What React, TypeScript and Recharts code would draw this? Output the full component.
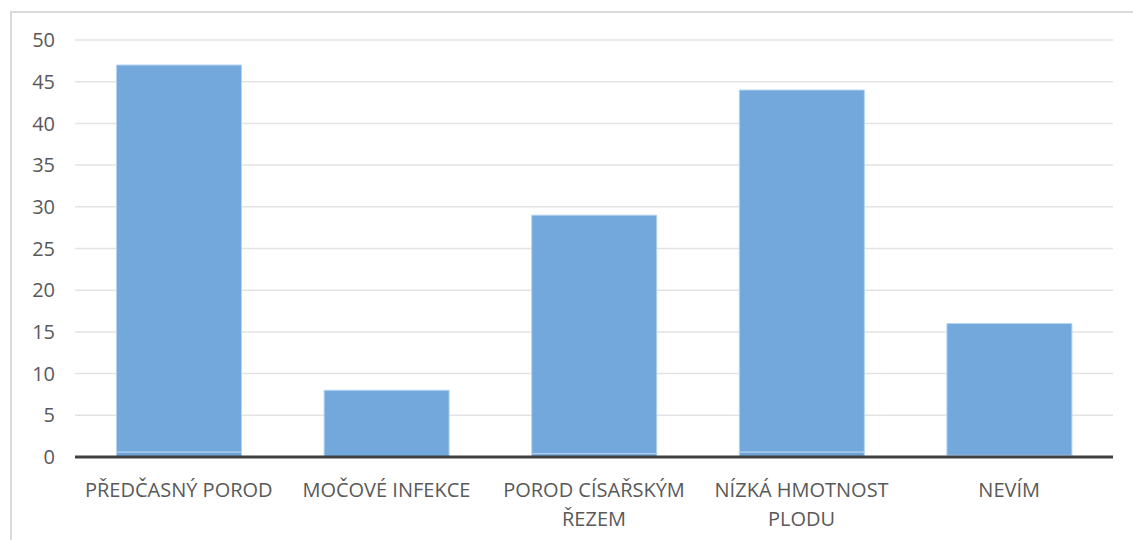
import React from 'react';
import { BarChart, Bar, XAxis, YAxis, CartesianGrid } from 'recharts';

const categories = [
  'PŘEDČASNÝ POROD',
  'MOČOVÉ INFEKCE',
  'POROD CÍSAŘSKÝM ŘEZEM',
  'NÍZKÁ HMOTNOST PLODU',
  'NEVÍM',
];
// thin base segment visible at the bottom of the bars
const baseValues = [0.6, 0, 0.4, 0.6, 0.2];
const topValues = [46.4, 8, 28.6, 43.4, 15.8];
const yTicks = [0, 5, 10, 15, 20, 25, 30, 35, 40, 45, 50];

const data = categories.map((name, i) => ({
  name,
  base: baseValues[i],
  top: topValues[i],
}));

const FONT = '"Open Sans", "Noto Sans", sans-serif';
const MAX_CHARS = 16;

// greedy word wrap by character count
function wrap(label: string): string[] {
  const lines: string[] = [];
  let cur = '';
  label.split(' ').forEach((w) => {
    const next = cur ? cur + ' ' + w : w;
    if (next.length > MAX_CHARS && cur) {
      lines.push(cur);
      cur = w;
    } else {
      cur = next;
    }
  });
  if (cur) lines.push(cur);
  return lines;
}

const CategoryTick = (props: any) => {
  const { x, y, payload } = props;
  const lines = wrap(String(payload.value));
  return (
    <text
      x={x}
      y={y + 18}
      textAnchor="middle"
      fill="#595959"
      fontSize={20}
      fontFamily={FONT}
    >
      {lines.map((l, i) => (
        <tspan key={i} x={x} dy={i === 0 ? '0.71em' : 29}>
          {l}
        </tspan>
      ))}
    </text>
  );
};

export default function App() {
  return (
    <div style={{ position: 'absolute', left: 0, top: 0, width: 1133, height: 540, background: '#fff', overflow: 'hidden' }}>
      <div
        style={{
          position: 'absolute',
          left: 10,
          top: 11,
          width: 1140,
          height: 560,
          borderLeft: '2px solid #d9d9d9',
          borderTop: '2px solid #d9d9d9',
        }}
      />
      <div style={{ position: 'absolute', left: 0, top: 0 }}>
        <BarChart
          width={1133}
          height={540}
          data={data}
          margin={{ top: 40, right: 20, bottom: 0, left: 0 }}
          barCategoryGap="20%"
        >
          <CartesianGrid vertical={false} stroke="#e3e3e3" strokeWidth={1.5} />
          <XAxis
            dataKey="name"
            axisLine={{ stroke: '#404040', strokeWidth: 3 }}
            tickLine={false}
            interval={0}
            tick={<CategoryTick />}
            height={83}
          />
          <YAxis
            width={75}
            domain={[0, 50]}
            ticks={yTicks}
            axisLine={false}
            tickLine={false}
            tickMargin={14}
            tick={{ fill: '#595959', fontSize: 20, fontFamily: FONT }}
          />
          <Bar dataKey="base" stackId="a" fill="#6fa3d6" stroke="#b4d3f0" strokeWidth={1} isAnimationActive={false} />
          <Bar dataKey="top" stackId="a" fill="#72a8db" stroke="#b4d3f0" strokeWidth={1} isAnimationActive={false} />
        </BarChart>
      </div>
    </div>
  );
}
